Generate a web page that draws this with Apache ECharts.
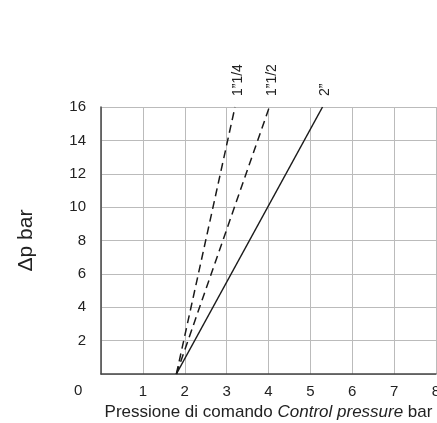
<!DOCTYPE html>
<html><head><meta charset="utf-8">
<script src="https://cdn.jsdelivr.net/npm/echarts@6/dist/echarts.min.js"></script>
<style>html,body{margin:0;padding:0;background:#fff}#c{width:437px;height:423px}</style>
</head><body><div id="c"></div>
<script>
const xTicks = [0,1,2,3,4,5,6,7,8];
const yTicks = [0,2,4,6,8,10,12,14,16];
const seriesNames = ['1”1/4', '1”1/2', '2”'];
const s114 = [[1.8,0],[3.2,16]];
const s112 = [[1.8,0],[4.02,16]];
const s2 = [[1.8,0],[5.29,16]];

const FONT = '"Liberation Sans", Arial, sans-serif';
const chart = echarts.init(document.getElementById('c'), null, {renderer:'canvas'});
function mk(name, data, type){
  return {
    name, type:'line', data, symbol:'none', silent:true,
    lineStyle:{color:'#1a1a1a', width:1.5, type: type},
    markPoint:{
      symbol:'circle', symbolSize:0.01, silent:true,
      data:[{coord:data[data.length-1], value:name}],
      label:{show:true, formatter:name, rotate:90, align:'left', verticalAlign:'middle',
        position:'inside', offset:[11,3], color:'#222', fontSize:14, fontFamily:FONT}
    }
  };
}
chart.setOption({
  animation:false,
  grid:{left:101, right:1, top:107, bottom:49, containLabel:false, outerBoundsMode:'none'},
  xAxis:{type:'value', min:0, max:8, interval:1,
    axisLine:{show:true, lineStyle:{color:'#444', width:1.5}},
    axisTick:{show:false},
    splitLine:{show:true, lineStyle:{color:'#bbb', width:1}},
    axisLabel:{margin:10, fontSize:15, color:'#222', fontFamily:FONT, rotate:0, hideOverlap:false,
      formatter:v=> v===0 ? '' : String(v)},
    name:'{a|Pressione di comando }{b|Control pressure}{a| bar}',
    nameLocation:'middle', nameGap:30,
    nameTextStyle:{rich:{a:{fontSize:17, color:'#222', fontFamily:FONT},
      b:{fontSize:17, color:'#222', fontFamily:FONT, fontStyle:'italic'}}}
  },
  yAxis:{type:'value', min:0, max:16, interval:2,
    axisLine:{show:true, lineStyle:{color:'#444', width:1.5}},
    axisTick:{show:false},
    splitLine:{show:true, lineStyle:{color:'#bbb', width:1}},
    axisLabel:{margin:15, fontSize:15, color:'#222', fontFamily:FONT, rotate:0,
      formatter:v=> v===0 ? '' : String(v)},
    name:'Δp bar', nameLocation:'middle', nameGap:64,
    nameTextStyle:{fontSize:21, color:'#222', fontFamily:FONT}
  },
  graphic:[{type:'text', left:74, top:383, style:{text:'0', fontSize:15, fill:'#222', font:'15px '+FONT}}],
  series:[mk(seriesNames[0], s114, [8,5]), mk(seriesNames[1], s112, [8,5]), mk(seriesNames[2], s2, 'solid')]
});
</script></body></html>
